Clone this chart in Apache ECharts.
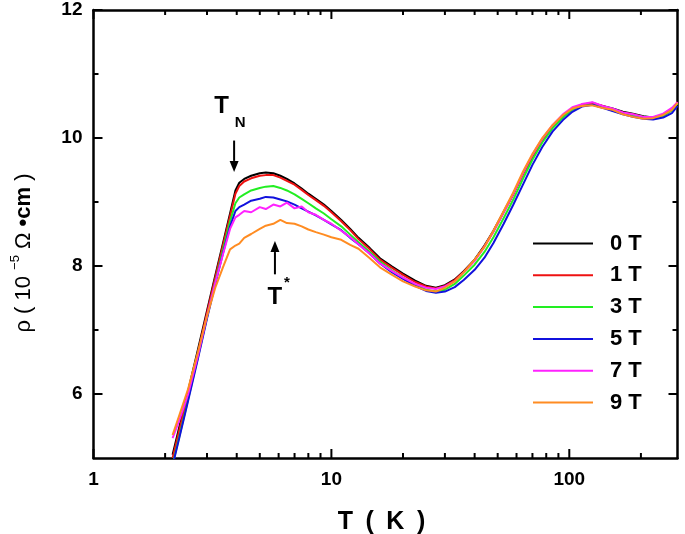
<!DOCTYPE html>
<html><head><meta charset="utf-8">
<script src="https://cdn.jsdelivr.net/npm/echarts@6/dist/echarts.min.js"></script>
<style>html,body{margin:0;padding:0;background:#fff}#c{width:685px;height:534px}</style>
</head><body><div id="c"></div>
<script>
// ---- data ----
const temps = [2.15, 2.3, 2.5, 2.75, 3.0, 3.25, 3.5, 3.75, 3.95, 4.1, 4.3, 4.6, 5.0, 5.3, 5.7, 6.1, 6.5, 7.0, 7.5, 8.0, 8.6, 9.3, 10, 11, 12, 13, 14.5, 16, 18, 20, 22.5, 25, 27.5, 30, 33, 36, 40, 44, 48, 53, 58, 64, 70, 77, 85, 94, 103, 113, 125, 138, 152, 168, 185, 205, 225, 248, 270, 285];
const rho0T = [5.05, 5.5, 6.05, 6.7, 7.3, 7.85, 8.35, 8.82, 9.18, 9.3, 9.36, 9.41, 9.45, 9.46, 9.45, 9.41, 9.36, 9.29, 9.21, 9.13, 9.05, 8.96, 8.86, 8.72, 8.58, 8.44, 8.28, 8.12, 7.99, 7.88, 7.77, 7.69, 7.66, 7.7, 7.79, 7.92, 8.1, 8.32, 8.55, 8.85, 9.12, 9.45, 9.72, 9.97, 10.18, 10.35, 10.46, 10.52, 10.54, 10.5, 10.46, 10.41, 10.38, 10.34, 10.32, 10.36, 10.45, 10.55];
const rho1T = [5.0, 5.45, 6.0, 6.65, 7.27, 7.82, 8.32, 8.78, 9.13, 9.25, 9.32, 9.37, 9.41, 9.42, 9.42, 9.38, 9.33, 9.27, 9.19, 9.11, 9.03, 8.94, 8.84, 8.7, 8.56, 8.42, 8.26, 8.1, 7.97, 7.86, 7.75, 7.68, 7.65, 7.69, 7.78, 7.91, 8.09, 8.31, 8.54, 8.84, 9.11, 9.44, 9.71, 9.96, 10.17, 10.34, 10.46, 10.52, 10.55, 10.5, 10.45, 10.4, 10.37, 10.33, 10.32, 10.35, 10.44, 10.56];
const rho3T = [4.9, 5.35, 5.92, 6.58, 7.2, 7.75, 8.25, 8.7, 8.98, 9.07, 9.12, 9.18, 9.22, 9.24, 9.25, 9.22, 9.18, 9.12, 9.05, 8.98, 8.9, 8.82, 8.73, 8.62, 8.49, 8.37, 8.22, 8.07, 7.93, 7.82, 7.71, 7.63, 7.6, 7.63, 7.72, 7.85, 8.02, 8.22, 8.45, 8.75, 9.03, 9.37, 9.66, 9.93, 10.15, 10.32, 10.44, 10.5, 10.52, 10.48, 10.43, 10.38, 10.36, 10.33, 10.32, 10.34, 10.43, 10.54];
const rho5T = [4.88, 5.33, 5.9, 6.56, 7.18, 7.72, 8.2, 8.62, 8.86, 8.92, 8.96, 9.02, 9.05, 9.08, 9.07, 9.04, 9.01, 8.96, 8.9, 8.85, 8.79, 8.72, 8.65, 8.56, 8.44, 8.34, 8.19, 8.04, 7.9, 7.8, 7.69, 7.61, 7.58, 7.6, 7.67, 7.78, 7.94, 8.13, 8.36, 8.66, 8.95, 9.28, 9.58, 9.86, 10.1, 10.28, 10.41, 10.49, 10.52, 10.47, 10.42, 10.37, 10.33, 10.3, 10.29, 10.32, 10.39, 10.5];
const rho7T = [5.31, 5.6, 6.0, 6.6, 7.22, 7.74, 8.18, 8.58, 8.76, 8.8, 8.86, 8.84, 8.92, 8.89, 8.96, 8.93, 8.99, 8.9, 8.93, 8.84, 8.8, 8.72, 8.66, 8.55, 8.45, 8.34, 8.19, 8.04, 7.92, 7.82, 7.72, 7.66, 7.64, 7.68, 7.76, 7.9, 8.08, 8.3, 8.54, 8.84, 9.12, 9.46, 9.74, 9.99, 10.2, 10.37, 10.48, 10.53, 10.56, 10.5, 10.46, 10.4, 10.37, 10.33, 10.33, 10.38, 10.47, 10.56];
const rho9T = [5.36, 5.68, 6.08, 6.66, 7.22, 7.66, 7.98, 8.26, 8.32, 8.35, 8.44, 8.5, 8.58, 8.63, 8.66, 8.72, 8.67, 8.66, 8.62, 8.57, 8.53, 8.49, 8.45, 8.41, 8.33, 8.27, 8.12, 7.98, 7.86, 7.76, 7.68, 7.62, 7.6, 7.66, 7.76, 7.9, 8.1, 8.3, 8.55, 8.86, 9.14, 9.48, 9.75, 10.0, 10.2, 10.36, 10.46, 10.5, 10.51, 10.47, 10.44, 10.37, 10.33, 10.3, 10.31, 10.36, 10.44, 10.55];
const fieldLabels = ['0 T', '1 T', '3 T', '5 T', '7 T', '9 T'];
const xMajorTicks = [1, 10, 100];
const xMinorTicks = [2, 3, 4, 5, 6, 7, 8, 9, 20, 30, 40, 50, 60, 70, 80, 90, 200];
const yMajorTicks = [6, 8, 10, 12];
const yMinorTicks = [7, 9, 11];
// annotations in data coordinates
const tnArrow = {t: 3.9, from: 9.96, to: 9.47};
const tStarArrow = {t: 5.79, from: 7.87, to: 8.39};

// ---- chart ----
const X_MIN = 1, X_MAX = 285, Y_MIN = 5, Y_MAX = 12;
const TICK_COLOR = '#000000';
const allRho = [rho0T, rho1T, rho3T, rho5T, rho7T, rho9T];
const colors = ['#000000', '#ee1111', '#22ee22', '#1111dd', '#ff22ff', '#ff8c22'];
const FONT = '"Liberation Sans", Arial, sans-serif';
const axisLine = {show: true, onZero: false, lineStyle: {color: '#000', width: 2.5}};

const option = {
  animation: false,
  backgroundColor: '#fff',
  grid: {left: 93.5, top: 10, width: 584, height: 448, outerBoundsMode: 'none', containLabel: false},
  xAxis: [
    {type: 'log', logBase: 10, min: X_MIN, max: X_MAX, position: 'bottom', splitLine: {show: false},
      axisLine: axisLine, axisTick: {show: false},
      axisLabel: {customValues: xMajorTicks, margin: 12, color: '#000', fontSize: 19, fontWeight: 'bold', fontFamily: FONT},
      name: 'T\u2002(\u2002K\u2002)', nameLocation: 'middle', nameGap: 52,
      nameTextStyle: {fontSize: 25, fontWeight: 'bold', color: '#000', fontFamily: FONT, padding: [0, 8, 0, 0]}},
    {type: 'log', logBase: 10, min: X_MIN, max: X_MAX, position: 'top', splitLine: {show: false},
      axisLine: axisLine, axisTick: {show: false}, axisLabel: {show: false}}
  ],
  yAxis: [
    {type: 'value', min: Y_MIN, max: Y_MAX, interval: 1, position: 'left', splitLine: {show: false},
      axisLine: axisLine, axisTick: {show: false},
      axisLabel: {margin: 11, color: '#000', fontSize: 19, fontWeight: 'bold', fontFamily: FONT,
        formatter: v => (yMajorTicks.indexOf(v) >= 0 ? String(v) : '')}},
    {type: 'value', min: Y_MIN, max: Y_MAX, interval: 1, position: 'right', splitLine: {show: false},
      axisLine: axisLine, axisTick: {show: false}, axisLabel: {show: false}}
  ],
  legend: {
    data: fieldLabels,
    orient: 'vertical',
    left: 533,
    top: 231.5,
    padding: 0,
    icon: 'rect',
    itemWidth: 60,
    itemHeight: 2,
    itemGap: 7.8,
    textStyle: {fontSize: 22, fontWeight: 'bold', color: '#000', fontFamily: FONT, padding: [0, 0, 0, 12], lineHeight: 24}
  },
  series: fieldLabels.map((name, k) => ({
    name: name, type: 'line', xAxisIndex: 0, yAxisIndex: 0,
    symbol: 'none', clip: true,
    data: temps.map((t, i) => [t, allRho[k][i]]),
    lineStyle: {color: colors[k], width: 2},
    itemStyle: {color: colors[k]},
    z: 2 + k
  }))
};

const chart = echarts.init(document.getElementById('c'), null, {renderer: 'canvas'});
chart.setOption(option);

function px(t, r) { return chart.convertToPixel({seriesIndex: 0}, [t, r]); }

// inward tick marks on all four sides, positioned through the axes' scales
const graphics = [];
function addTicks(values, axis, side, len) {
  values.forEach(v => {
    const p = axis === 'x' ? px(v, side === 'bottom' ? Y_MIN : Y_MAX) : px(side === 'left' ? X_MIN : X_MAX, v);
    let dx = 0, dy = 0;
    if (axis === 'x') dy = side === 'bottom' ? -len : len;
    else dx = side === 'left' ? len : -len;
    graphics.push({type: 'line', shape: {x1: p[0], y1: p[1], x2: p[0] + dx, y2: p[1] + dy}, style: {stroke: TICK_COLOR, lineWidth: 2}, z: 100});
  });
}
addTicks(xMajorTicks, 'x', 'bottom', 9); addTicks(xMinorTicks, 'x', 'bottom', 5);
addTicks(xMajorTicks, 'x', 'top', 9); addTicks(xMinorTicks, 'x', 'top', 5);
addTicks(yMajorTicks, 'y', 'left', 9); addTicks(yMinorTicks, 'y', 'left', 5);
addTicks(yMajorTicks, 'y', 'right', 9); addTicks(yMinorTicks, 'y', 'right', 5);

function arrow(a) {
  const p0 = px(a.t, a.from), p1 = px(a.t, a.to);
  const dir = Math.sign(p1[1] - p0[1]);
  const hh = 11, hw = 4.5;
  graphics.push(
    {type: 'line', shape: {x1: p0[0], y1: p0[1], x2: p1[0], y2: p1[1] - dir * hh}, style: {stroke: '#000', lineWidth: 2}, z: 100},
    {type: 'polygon', shape: {points: [[p1[0], p1[1]], [p1[0] - hw, p1[1] - dir * hh], [p1[0] + hw, p1[1] - dir * hh]]}, style: {fill: '#000'}, z: 100}
  );
}
arrow(tnArrow); arrow(tStarArrow);
const tnTop = px(tnArrow.t, tnArrow.from);
const tsBot = px(tStarArrow.t, tStarArrow.from);
graphics.push(
  {type: 'text', x: tnTop[0] - 12.6, y: tnTop[1] - 34.5, style: {text: 'T', fontSize: 24, fontWeight: 'bold', fontFamily: FONT, fill: '#000', align: 'center', verticalAlign: 'middle'}, z: 100},
  {type: 'text', x: tnTop[0] + 6, y: tnTop[1] - 18, style: {text: 'N', fontSize: 15, fontWeight: 'bold', fontFamily: FONT, fill: '#000', align: 'center', verticalAlign: 'middle'}, z: 100},
  {type: 'text', x: tsBot[0], y: tsBot[1] + 22.7, style: {text: 'T', fontSize: 24, fontWeight: 'bold', fontFamily: FONT, fill: '#000', align: 'center', verticalAlign: 'middle'}, z: 100},
  {type: 'text', x: tsBot[0] + 12, y: tsBot[1] + 9, style: {text: '*', fontSize: 15, fontWeight: 'bold', fontFamily: FONT, fill: '#000', align: 'center', verticalAlign: 'middle'}, z: 100},
  {type: 'text', x: 22, y: 253, rotation: Math.PI / 2,
    style: {
      text: '{n|ρ ( 10 }{s|−5}{n| Ω }{b|•cm}{n| )}',
      align: 'center', verticalAlign: 'middle', fill: '#000',
      rich: {
        n: {fontSize: 22, fontFamily: FONT, fill: '#000', lineHeight: 26, verticalAlign: 'bottom'},
        s: {fontSize: 13, fontFamily: FONT, fill: '#000', lineHeight: 26, verticalAlign: 'top'},
        b: {fontSize: 22, fontWeight: 'bold', fontFamily: FONT, fill: '#000', lineHeight: 26, verticalAlign: 'bottom'}
      }
    }, z: 100}
);
chart.setOption({graphic: graphics});
</script>
</body></html>
